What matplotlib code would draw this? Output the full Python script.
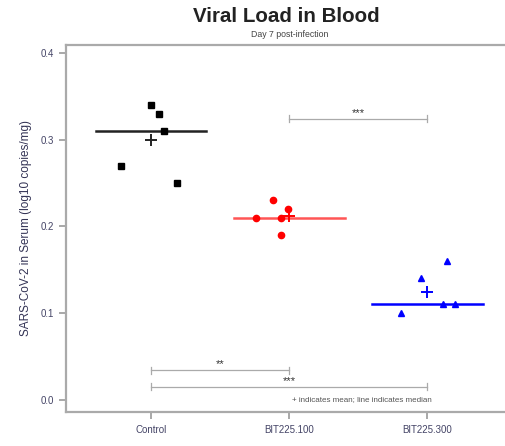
import matplotlib.pyplot as plt
import numpy as np

plt.rcParams['font.family'] = ['Liberation Sans', 'DejaVu Sans']

# groups and values (log10 copies/mg)
groups = ['Control', 'BIT225.100', 'BIT225.300']
control = [0.34, 0.33, 0.31, 0.27, 0.25]
bit100 = [0.23, 0.22, 0.21, 0.21, 0.19]
bit300 = [0.16, 0.14, 0.10, 0.11, 0.11]
# horizontal jitter of each point as drawn
jit_control = [0.0, 0.06, 0.09, -0.22, 0.19]
jit_bit100 = [-0.12, -0.01, -0.24, -0.06, -0.06]
jit_bit300 = [0.14, -0.05, -0.19, 0.11, 0.20]

# significance brackets: (from group, to group, height, label)
brackets = [(2, 3, 0.324, '***'), (1, 2, 0.034, '**'), (1, 3, 0.015, '***')]

fig = plt.figure(figsize=(5.05, 4.46), dpi=100)
ax = fig.add_axes([0.1307, 0.0762, 0.88, 0.823])

series = [control, bit100, bit300]
jits = [jit_control, jit_bit100, jit_bit300]
markers = ['s', 'o', '^']
colors = ['black', 'red', 'blue']
line_colors = ['#222222', '#ff5555', 'blue']
sizes = [4.5, 4.5, 5]

for i, (vals, jit) in enumerate(zip(series, jits)):
    pos = i + 1
    xs = pos + np.array(jit)
    ax.plot(xs, vals, linestyle='none', marker=markers[i], color=colors[i],
            markersize=sizes[i], zorder=3)
    med = np.median(vals)
    ax.plot([pos - 0.4, pos + 0.4], [med, med], color=line_colors[i], lw=1.8, zorder=2)
    ax.plot(pos, np.mean(vals), marker='+', color=colors[i] if i else '#222222',
            markersize=8, mew=1.4, zorder=4)

# brackets
for a, b, h, lab in brackets:
    ax.plot([a, b], [h, h], color='#aaaaaa', lw=0.9)
    ax.plot([a, a], [h - 0.004, h + 0.004], color='#aaaaaa', lw=0.9)
    ax.plot([b, b], [h - 0.004, h + 0.004], color='#aaaaaa', lw=0.9)
    ax.text((a + b) / 2, h + 0.001, lab, ha='center', va='bottom', fontsize=8, color='#333333')

ax.text(3.03, 0.0, '+ indicates mean; line indicates median', ha='right', va='center',
        fontsize=5.8, color='#555555')

ax.set_xlim(0.384, 3.6)
ax.set_ylim(-0.014, 0.409)
ax.set_xticks([1, 2, 3])
ax.set_xticklabels(groups)
ax.set_yticks([0.0, 0.1, 0.2, 0.3, 0.4])
ax.set_yticklabels(['0.0', '0.1', '0.2', '0.3', '0.4'])
ax.tick_params(axis='both', labelsize=7, colors='#999999', labelcolor='#444466',
               length=5, width=1.2, direction='out', pad=4)
for s in ax.spines.values():
    s.set_color('#aaaaaa')
    s.set_linewidth(1.6)

ax.set_ylabel('SARS-CoV-2 in Serum (log10 copies/mg)', fontsize=8.5, color='#333355', labelpad=6)

fig.text(0.567, 0.962, 'Viral Load in Blood', ha='center', va='center', fontsize=14.8,
         fontweight='bold', color='#222222')
fig.text(0.574, 0.922, 'Day 7 post-infection', ha='center', va='center', fontsize=6.3,
         color='#444444')

fig.savefig('out.png', dpi=100)
